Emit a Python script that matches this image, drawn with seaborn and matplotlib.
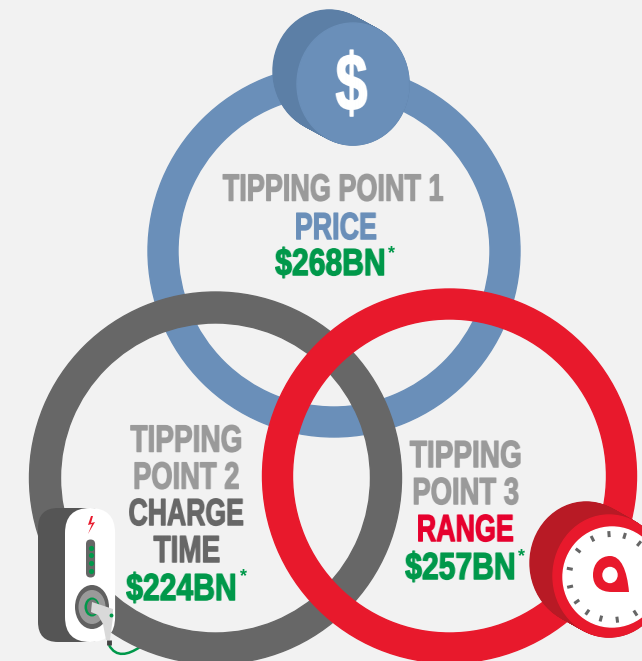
import numpy as np
import pandas as pd
import matplotlib
matplotlib.use("Agg")
import matplotlib.pyplot as plt
import seaborn as sns
from matplotlib.colors import to_rgb
from matplotlib.patches import Annulus, Ellipse, FancyBboxPatch, Polygon, PathPatch
from matplotlib.path import Path
from matplotlib.patheffects import withStroke
from matplotlib.text import Text
from matplotlib.transforms import Bbox

# DATA

tipping_labels = ["TIPPING POINT 1", "TIPPING\nPOINT 2", "TIPPING\nPOINT 3"]
barrier_names = ["PRICE", "CHARGE\nTIME", "RANGE"]
amounts_bn = [268, 224, 257]
led_levels = [1, 2, 3, 4]
dial_angles = [-94, -73, -51, -117, -142, -169, 167, 145, 125, 105, 83, 57, 29]

BG = "#f2f2f2"
BLUE = "#6a8fb9"
BLUE_DARK = "#5c7fa6"
GREY = "#676767"
RED = "#e8192c"
RED_TEXT = "#e6002d"
RED_DARK = "#b81a25"
GREEN = "#00984a"
LABEL = "#9a9a9a"

sns.set_theme(style="white")
plt.rcParams["font.family"] = ["Liberation Sans", "DejaVu Sans"]

fig = plt.figure(figsize=(6.42, 6.61), dpi=100, facecolor=BG)
ax = fig.add_axes([0, 0, 1, 1])
ax.set_xlim(0, 642)
ax.set_ylim(661, 0)
ax.axis("off")


# CONDENSED TEXT (no narrow font installed, so squeeze the drawn text)

class NarrowText(Text):
    squeeze = 1.0

    def get_window_extent(self, renderer=None, dpi=None):
        box = super().get_window_extent(renderer, dpi)
        mid = (box.x0 + box.x1) / 2
        half = box.width / 2 * self.squeeze
        return Bbox([[mid - half, box.y0], [mid + half, box.y1]])


def make_filter(color, k):
    rgb = to_rgb(color)

    def squeeze_filter(img, dpi):
        h, w = img.shape[:2]
        new_w = max(int(round(w * k)), 1)
        cum = np.concatenate([np.zeros((h, 1)), np.cumsum(img[:, :, 3], axis=1)], axis=1)
        edges = np.linspace(0, w, new_w + 1)
        sampled = np.array([np.interp(edges, np.arange(w + 1), row) for row in cum])
        alpha = np.clip(np.diff(sampled, axis=1) / (w / new_w), 0, 1)
        out = np.zeros((h, new_w, 4))
        out[:, :, 0], out[:, :, 1], out[:, :, 2] = rgb
        out[:, :, 3] = alpha
        return out, (w - new_w) // 2, 0

    return squeeze_filter


def label(x, base, s, color, k=0.73, size=27, stroke=1.1, zorder=12):
    t = NarrowText(x, base, s, color=color, fontsize=size, fontweight="bold", ha="center",
                   va="baseline", zorder=zorder)
    t.squeeze = k
    t.set_agg_filter(make_filter(color, k))
    if stroke:
        t.set_path_effects([withStroke(linewidth=stroke, foreground=color)])
    ax.add_artist(t)


def amount(x, base, value, star_x, star_y):
    label(x, base, f"${value}BN", GREEN, k=0.8)
    ax.text(star_x, star_y, "*", color=GREEN, fontsize=13, fontweight="bold", ha="center",
            va="center", zorder=12)


# RINGS

ax.add_patch(Annulus((334, 251), 186, 30, color=BLUE, zorder=1))
ax.add_patch(Annulus((215.5, 478), 186, 31, color=GREY, zorder=2))
ax.add_patch(Annulus((449.5, 476), 187, 30, color=RED, zorder=3))


# COINS

def coin(front, back, rx, ry, dark, face):
    for t in np.linspace(0, 1, 30):
        c = (back[0] + (front[0] - back[0]) * t, back[1] + (front[1] - back[1]) * t)
        ax.add_patch(Ellipse(c, rx * 2, ry * 2, color=dark, zorder=5))
    ax.add_patch(Ellipse(front, rx * 2, ry * 2, color=face, zorder=6))


coin((353, 84), (329, 71), 56, 61, BLUE_DARK, BLUE)
label(352, 110, "$", "white", k=0.72, size=58, stroke=1.2, zorder=7)

coin((609, 576), (586, 563), 56, 61, RED_DARK, RED)
ax.add_patch(Ellipse((612, 577), 98, 100, color="white", zorder=7))
for a in dial_angles:
    rad = np.deg2rad(a)
    ax.plot([612 + 40 * np.cos(rad), 612 + 46 * np.cos(rad)],
            [577 + 40 * np.sin(rad), 577 + 46 * np.sin(rad)],
            color="#666666", lw=2.2, solid_capstyle="butt", zorder=8)
pin = Path([(593, 575), (593, 563), (601, 556), (610, 556), (621, 556), (627, 570), (629, 592),
            (612, 592), (600, 592), (593, 586), (593, 575), (593, 575)],
           [Path.MOVETO, Path.CURVE4, Path.CURVE4, Path.CURVE4, Path.CURVE4, Path.CURVE4, Path.CURVE4,
            Path.LINETO, Path.CURVE4, Path.CURVE4, Path.CURVE4, Path.CLOSEPOLY])
ax.add_patch(PathPatch(pin, color=RED, lw=0, zorder=9))
ax.add_patch(Ellipse((610, 575), 14, 15, color="white", zorder=10))


# CHARGER

ax.add_patch(FancyBboxPatch((58, 528), 30, 94, boxstyle="round,pad=20", color="#555555", lw=0, zorder=4))
ax.add_patch(FancyBboxPatch((90, 533), 0.1, 84, boxstyle="round,pad=25", color="white", lw=0, zorder=5))
ax.add_patch(Polygon([(91, 516), (88, 525), (92, 524), (88, 534), (95, 522), (91, 523), (93, 516)],
                     color=RED, lw=0, zorder=6))
ax.add_patch(FancyBboxPatch((90.5, 544), 0.1, 29, boxstyle="round,pad=4.5", color="#666666", lw=0, zorder=6))
leds = pd.DataFrame({"level": led_levels, "x": [91] * 4, "y": [548, 555, 563, 571]})
sns.scatterplot(data=leds, x="x", y="y", color=GREEN, s=14, linewidth=0, legend=False, ax=ax, zorder=7)
ax.set_xlabel("")
ax.set_ylabel("")
ax.add_patch(Ellipse((92, 607), 34, 44, color="#606060", lw=0, zorder=6))
ax.add_patch(Ellipse((92, 607), 27, 34, color="#9a9a9a", lw=0, zorder=7))
ax.add_patch(Ellipse((92, 607), 15, 19, color=GREEN, lw=0, zorder=8))
ax.add_patch(Ellipse((92.5, 607), 11, 15, color="#777777", lw=0, zorder=9))
ax.add_patch(Polygon([(92, 602), (113, 609), (113, 617), (110, 640), (106, 640), (103, 624), (98, 615), (91, 612)],
                     color="#d9d9d9", lw=0, zorder=10))
ax.plot([108.5, 108.5], [640, 645], color="#444444", lw=3.5, solid_capstyle="butt", zorder=10)
cable = Path([(109, 645), (116, 658), (128, 655), (140, 647)],
             [Path.MOVETO, Path.CURVE4, Path.CURVE4, Path.CURVE4])
ax.add_patch(PathPatch(cable, fc="none", ec=GREEN, lw=1.8, zorder=1.5))
ax.scatter([111], [615], color=GREEN, s=8, linewidth=0, zorder=11)


# TEXT

label(333, 200.5, tipping_labels[0], LABEL, k=0.72)
label(335.5, 239, barrier_names[0], BLUE, k=0.72)
amount(331, 275, amounts_bn[0], 392, 254)

left_top, left_bottom = tipping_labels[1].split("\n")
label(186.5, 451.5, left_top, LABEL, k=0.75)
label(186.5, 488.5, left_bottom, LABEL, k=0.73)
charge, time_ = barrier_names[1].split("\n")
label(186.5, 525, charge, GREY, k=0.71)
label(187.5, 562, time_, GREY, k=0.74)
amount(182, 600, amounts_bn[1], 243, 577)

right_top, right_bottom = tipping_labels[2].split("\n")
label(466, 467, right_top, LABEL, k=0.75)
label(466, 504, right_bottom, LABEL, k=0.73)
label(465, 541, barrier_names[2], RED_TEXT, k=0.72)
amount(461, 579, amounts_bn[2], 522, 557)

fig.savefig("out.png", dpi=100, facecolor=BG)
